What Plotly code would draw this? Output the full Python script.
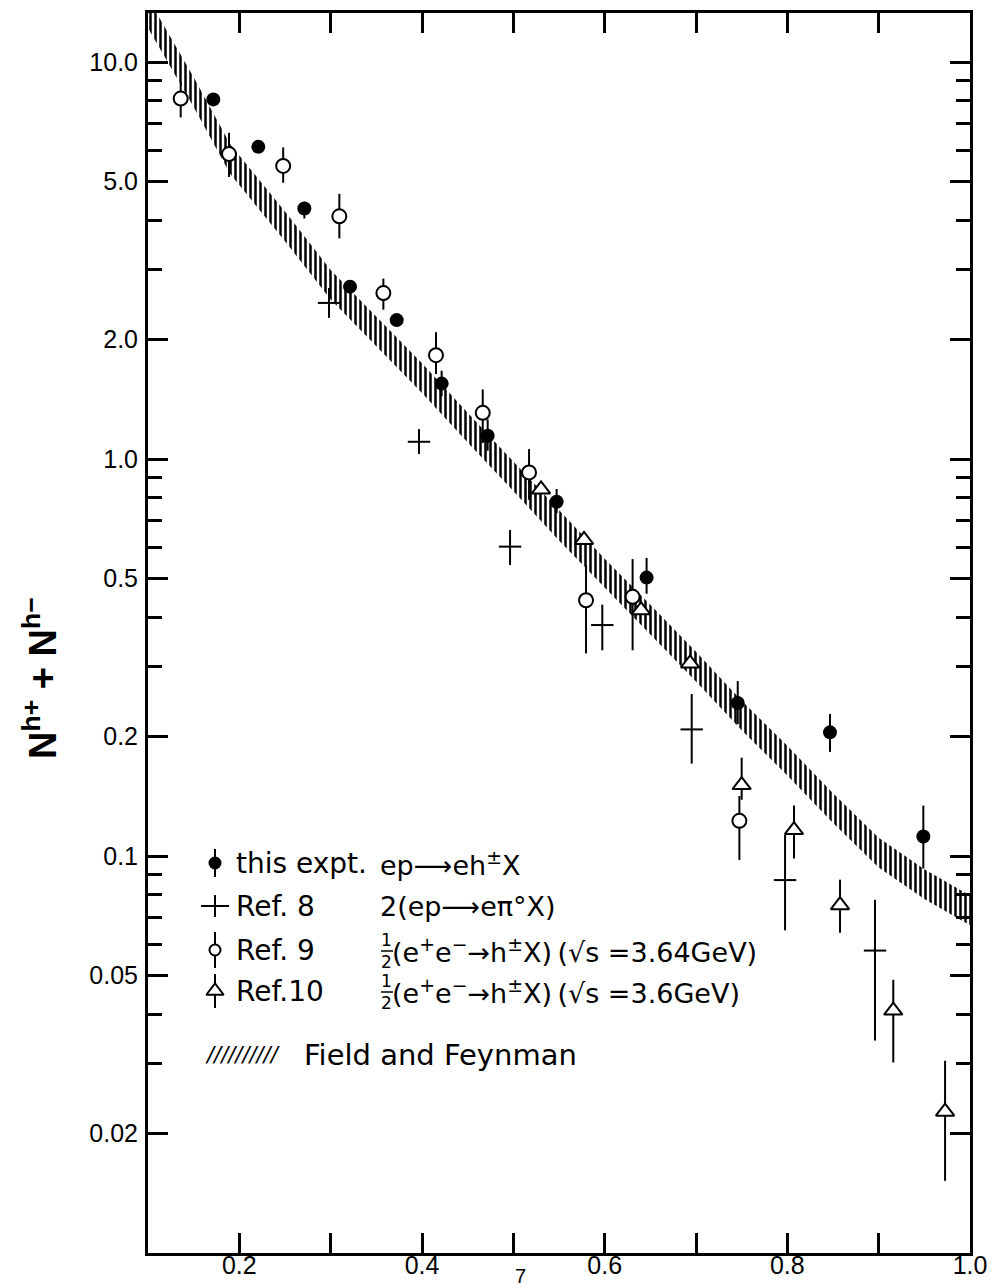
import plotly.graph_objects as go

# ---------------- data ----------------
# this experiment  ep -> e h± X   (filled circles)
expt_x = [0.1715, 0.2208, 0.2712, 0.3212, 0.3723, 0.4215, 0.4719, 0.5474, 0.6459, 0.7457, 0.8467, 0.9489]
expt_y = [8.06, 6.12, 4.28, 2.72, 2.24, 1.55, 1.145, 0.781, 0.503, 0.243, 0.205, 0.112]
expt_ep = [0, 0, 0.17, 0, 0, 0.12, 0.115, 0.06, 0.061, 0.033, 0.023, 0.022]
expt_em = [0, 0, 0.24, 0, 0, 0.11, 0.095, 0.05, 0.045, 0.028, 0.022, 0.019]

# Ref. 8   2(ep -> e pi0 X)   (crosses)
ref8_x = [0.2982, 0.3967, 0.4964, 0.5974, 0.6953, 0.7975, 0.896]
ref8_y = [2.475, 1.106, 0.602, 0.382, 0.2085, 0.087, 0.0578]
ref8_ep = [0.225, 0.084, 0.061, 0.048, 0.0475, 0.026, 0.0198]
ref8_em = [0.205, 0.076, 0.061, 0.052, 0.0375, 0.022, 0.0235]

# Ref. 9   1/2(e+e- -> h± X) sqrt(s)=3.64 GeV   (open circles)
ref9_x = [0.1358, 0.1887, 0.248, 0.3095, 0.3577, 0.4153, 0.4665, 0.5172, 0.5796, 0.6306, 0.7475]
ref9_y = [8.10, 5.87, 5.48, 4.09, 2.62, 1.828, 1.308, 0.926, 0.441, 0.450, 0.1227]
ref9_ep = [0.82, 0.77, 0.62, 0.57, 0.23, 0.26, 0.19, 0.134, 0.10, 0.11, 0.019]
ref9_em = [0.84, 0.73, 0.51, 0.49, 0.24, 0.19, 0.21, 0.136, 0.117, 0.12, 0.025]

# Ref. 10  1/2(e+e- -> h± X) sqrt(s)=3.6 GeV   (open triangles)
ref10_x = [0.5303, 0.5774, 0.6398, 0.6935, 0.75, 0.8073, 0.8577, 0.916, 0.9727]
ref10_y = [0.839, 0.626, 0.4165, 0.3057, 0.151, 0.1163, 0.0752, 0.0408, 0.0227]
ref10_ep = [0, 0, 0, 0, 0.026, 0.0177, 0.012, 0.008, 0.0078]
ref10_em = [0, 0, 0, 0, 0.0124, 0.0177, 0.0111, 0.0106, 0.0075]

# Field and Feynman band (centre line)
ff_x = [0.10, 0.15, 0.19, 0.25, 0.30, 0.35, 0.40, 0.45, 0.50, 0.55, 0.60, 0.65,
        0.70, 0.75, 0.80, 0.85, 0.90, 0.95, 1.00]
ff_y = [13.3, 8.41, 5.7, 3.86, 2.75, 2.1, 1.60, 1.20, 0.906, 0.68, 0.515, 0.394,
        0.30, 0.226, 0.174, 0.132, 0.102, 0.085, 0.073]
ff_halfwidth = 1.09   # multiplicative half-width of the band

# axis ticks
x_tickvals = [0.2, 0.4, 0.6, 0.8, 1.0]
x_ticktext = ["0.2", "0.4", "0.6", "0.8", "1.0"]
x_minorvals = [0.3, 0.5, 0.7, 0.9]
y_tickvals = [0.02, 0.05, 0.1, 0.2, 0.5, 1, 2, 5, 10]
y_ticktext = ["0.02", "0.05", "0.1", "0.2", "0.5", "1.0", "2.0", "5.0", "10.0"]
y_minorvals = [0.03, 0.04, 0.06, 0.07, 0.08, 0.09, 0.3, 0.4, 0.6, 0.7, 0.8, 0.9,
               3, 4, 6, 7, 8, 9]

# legend texts
leg_labels = ["this expt.", "Ref. 8", "Ref. 9", "Ref.10"]
leg_formulas = ["ep\u27f6eh<sup>\u00b1</sup>X", "2(ep\u27f6e\u03c0\u00b0X)",
                "(e<sup>+</sup>e<sup>\u2212</sup>\u2192h<sup>\u00b1</sup>X)\u2009(\u221as =3.64GeV)",
                "(e<sup>+</sup>e<sup>\u2212</sup>\u2192h<sup>\u00b1</sup>X)\u2009(\u221as =3.6GeV)"]
leg_half = [False, False, True, True]
ff_label = "Field and Feynman"

# ---------------- figure ----------------
W, H = 994, 1286
L, R, T, B = 148, 970, 13, 1253
TXT_FONT = "DejaVu Sans"
NUM_FONT = "Liberation Sans"
TXT_SIZE = 28

def px(xp):
    return (xp - L) / (R - L)

def py(yp):
    return (B - yp) / (B - T)

fig = go.Figure()

upper = [v * ff_halfwidth for v in ff_y]
lower = [v / ff_halfwidth for v in ff_y]
fig.add_trace(go.Scatter(
    x=ff_x + ff_x[::-1], y=upper + lower[::-1], mode="lines", fill="toself",
    line=dict(width=0, color="rgba(0,0,0,0)"),
    fillcolor="white",
    fillpattern=dict(shape="|", fgcolor="black", bgcolor="white", fgopacity=1,
                     size=5, solidity=0.5),
    hoverinfo="skip", showlegend=False))

def err(p, m):
    return dict(type="data", symmetric=False, array=p, arrayminus=m,
                width=0, thickness=2, color="black")

fig.add_trace(go.Scatter(
    x=ref8_x, y=ref8_y, mode="markers", error_y=err(ref8_ep, ref8_em),
    marker=dict(symbol="line-ew", size=16, color="black", line=dict(width=2, color="black")),
    showlegend=False))
fig.add_trace(go.Scatter(
    x=ref9_x, y=ref9_y, mode="markers", error_y=err(ref9_ep, ref9_em),
    marker=dict(symbol="circle", size=14, color="white", line=dict(width=2, color="black")),
    showlegend=False))
fig.add_trace(go.Scatter(
    x=ref10_x, y=ref10_y, mode="markers", error_y=err(ref10_ep, ref10_em),
    marker=dict(symbol="triangle-up", size=16, color="white", line=dict(width=2, color="black")),
    showlegend=False))
fig.add_trace(go.Scatter(
    x=expt_x, y=expt_y, mode="markers", error_y=err(expt_ep, expt_em),
    marker=dict(symbol="circle", size=14, color="black", line=dict(width=0)),
    showlegend=False))

# ---- legend symbols on an overlay axis in pixel units (plot-area domain) ----
leg_sym_x = 215
leg_rows_y = [863, 906, 950, 991]
leg_styles = [
    dict(symbol="circle", size=13, color="black", line=dict(width=0)),
    dict(symbol="line-ew", size=20, color="black", line=dict(width=2, color="black")),
    dict(symbol="circle", size=11, color="white", line=dict(width=2, color="black")),
    dict(symbol="triangle-up", size=15, color="white", line=dict(width=2, color="black")),
]
leg_bar = [14, 11, 18, 17]
for yy, st, bar in zip(leg_rows_y, leg_styles, leg_bar):
    fig.add_trace(go.Scatter(
        x=[leg_sym_x], y=[yy], xaxis="x2", yaxis="y2", mode="markers",
        marker=st, error_y=dict(type="constant", value=bar, width=0, thickness=2, color="black"),
        showlegend=False, hoverinfo="skip"))

ann = []
shapes = []
for yy, lab, form, half in zip(leg_rows_y, leg_labels, leg_formulas, leg_half):
    ann.append(dict(x=px(234), y=py(yy), xref="paper", yref="paper", text=lab,
                    showarrow=False, xanchor="left", yanchor="middle",
                    font=dict(family=TXT_FONT, size=TXT_SIZE, color="black")))
    fx = 378
    if half:
        ann.append(dict(x=px(379), y=py(yy + 1), xref="paper", yref="paper",
                        text="1<br>2", showarrow=False, xanchor="left", yanchor="middle",
                        font=dict(family=TXT_FONT, size=17, color="black")))
        shapes.append(dict(type="line", xref="paper", yref="paper",
                           x0=px(381), x1=px(393), y0=py(yy + 1), y1=py(yy + 1),
                           line=dict(color="black", width=1.5)))
        fx = 390
    ann.append(dict(x=px(fx), y=py(yy), xref="paper", yref="paper", text=form,
                    showarrow=False, xanchor="left", yanchor="middle",
                    font=dict(family=TXT_FONT, size=TXT_SIZE - 1, color="black")))

ann.append(dict(x=px(203), y=py(1055), xref="paper", yref="paper", text="<i>//////////</i>",
                showarrow=False, xanchor="left", yanchor="middle",
                font=dict(family=TXT_FONT, size=21, color="black")))
ann.append(dict(x=px(302), y=py(1055), xref="paper", yref="paper", text=ff_label,
                showarrow=False, xanchor="left", yanchor="middle",
                font=dict(family=TXT_FONT, size=TXT_SIZE + 1, color="black")))
# y-axis title
ann.append(dict(x=px(40), y=py(678), xref="paper", yref="paper",
                text="<b>N<sup>h+</sup> + N<sup>h\u2212</sup></b>", textangle=-90,
                showarrow=False, xanchor="center", yanchor="middle",
                font=dict(family=NUM_FONT, size=38, color="black")))
# page number
ann.append(dict(x=px(520), y=py(1276), xref="paper", yref="paper", text="7",
                showarrow=False, xanchor="center", yanchor="middle",
                font=dict(family=NUM_FONT, size=20, color="black")))

fig.update_layout(
    width=W, height=H,
    margin=dict(l=L, r=W - R, t=T, b=H - B, pad=0, autoexpand=False),
    paper_bgcolor="white", plot_bgcolor="white",
    showlegend=False,
    annotations=ann,
    shapes=shapes,
    xaxis=dict(range=[0.1, 1.0], tickmode="array", tickvals=x_tickvals, ticktext=x_ticktext,
               ticks="inside", ticklen=20, tickwidth=3, tickcolor="black",
               minor=dict(tickmode="array", tickvals=x_minorvals, ticks="inside",
                          ticklen=20, tickwidth=3, tickcolor="black", showgrid=False),
               showline=True, linecolor="black", linewidth=3, mirror="ticks",
               showgrid=False, zeroline=False, ticklabelstandoff=-12, automargin=False,
               tickfont=dict(family=NUM_FONT, size=25, color="black")),
    yaxis=dict(type="log", range=[-2.0, 1.124], tickmode="array",
               tickvals=y_tickvals, ticktext=y_ticktext,
               ticks="inside", ticklen=20, tickwidth=3, tickcolor="black",
               minor=dict(tickmode="array", tickvals=y_minorvals, ticks="inside",
                          ticklen=14, tickwidth=2.5, tickcolor="black", showgrid=False),
               showline=True, linecolor="black", linewidth=3, mirror="ticks",
               showgrid=False, zeroline=False, ticklabelstandoff=2, automargin=False,
               tickfont=dict(family=NUM_FONT, size=25, color="black")),
    xaxis2=dict(domain=[0, 1], range=[L, R], overlaying="x", visible=False,
                fixedrange=True, anchor="y2", automargin=False),
    yaxis2=dict(domain=[0, 1], range=[B, T], overlaying="y", visible=False,
                fixedrange=True, anchor="x2", automargin=False),
)

fig.write_html("out.html", config={"displayModeBar": False},
               post_script="document.body.style.margin='0';document.body.style.overflow='hidden';")
